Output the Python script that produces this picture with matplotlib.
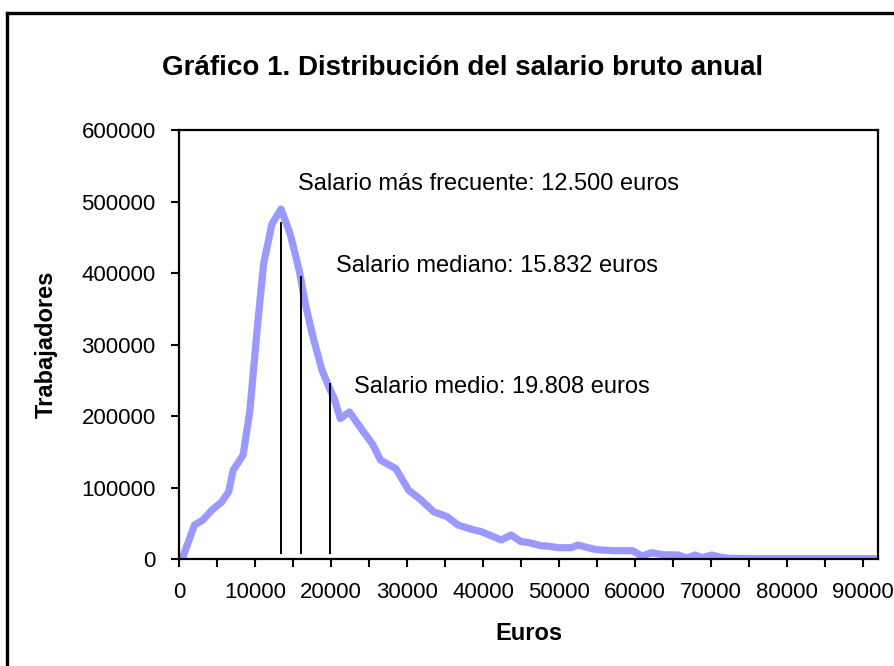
import matplotlib
matplotlib.use("Agg")
import matplotlib.pyplot as plt
from matplotlib.lines import Line2D

plt.rcParams['font.family'] = ['Liberation Sans', 'DejaVu Sans']

# salary (euros) vs number of workers
euros = [400, 2000, 3100, 4300, 5600, 6500, 7100, 8400, 9300, 10200,
         11100, 12200, 13400, 14600, 15800, 16600, 17500, 18800, 19900, 20400,
         21200, 22400, 24100, 25400, 26500, 28500, 30200, 31600, 33500, 35300,
         36700, 38800, 39800, 42400, 43700, 45000, 45900, 47600, 48500, 49900,
         51600, 52500, 54700, 55600, 57300, 59700, 60900, 62200, 63700, 65700,
         66800, 67900, 68800, 70100, 71400, 72300, 76000, 80000, 85000, 91500]
workers = [1000, 47800, 54800, 68800, 80300, 94300, 124500, 145500, 208000, 315000,
           412800, 468600, 489500, 454700, 403500, 357000, 315200, 264000, 236000, 224600,
           196700, 205900, 180300, 161800, 138500, 126900, 96600, 85100, 66400, 59400,
           47800, 41000, 38500, 27000, 34000, 24600, 23700, 19000, 18500, 16200,
           16200, 19900, 13900, 13000, 12000, 12000, 4600, 9200, 6400, 6000,
           1800, 6000, 2300, 6000, 2800, 1400, 1000, 1000, 1000, 1000]

# reference lines: x position, top
ref_x = [13450, 16050, 19800]
ref_top = [472000, 396000, 246000]
ref_labels = ["Salario más frecuente: 12.500 euros",
              "Salario mediano: 15.832 euros",
              "Salario medio: 19.808 euros"]
label_pos = [(15680, 524800), (20700, 410500), (22950, 240300)]

fig = plt.figure(figsize=(8.95, 6.66), dpi=100)
ax = fig.add_axes([0.2003, 0.1602, 0.7807, 0.6446])

ax.plot(euros, workers, color='#9999FF', lw=5.2,
        solid_capstyle='round', solid_joinstyle='round', zorder=2)

for xv, top in zip(ref_x, ref_top):
    ax.vlines(xv, 7500, top, color='black', lw=1.4, zorder=3)

for txt, (tx, ty) in zip(ref_labels, label_pos):
    ax.text(tx, ty, txt, ha='left', va='center', fontsize=17, color='black')

ax.set_xlim(0, 92000)
ax.set_ylim(0, 600000)
ax.set_yticks(range(0, 600001, 100000))
ax.set_yticklabels([str(v) for v in range(0, 600001, 100000)])
ax.set_xticks(range(0, 90001, 5000))
ax.set_xticklabels([str(v) if v % 10000 == 0 else "" for v in range(0, 90001, 5000)])
ax.tick_params(axis='both', direction='out', length=6, width=1.5,
               labelsize=16, colors='black')
ax.tick_params(axis='x', pad=10)
ax.tick_params(axis='y', pad=11)
for s in ax.spines.values():
    s.set_linewidth(1.6)
    s.set_color('black')

ax.set_xlabel("Euros", fontsize=17, fontweight='bold', labelpad=14)
ax.set_ylabel("Trabajadores", fontsize=17, fontweight='bold', labelpad=17)

fig.text(0.517, 0.898, "Gráfico 1. Distribución del salario bruto anual",
         ha='center', va='center', fontsize=20, fontweight='bold')

# chart border (only top and left edges are in frame)
fig.add_artist(Line2D([7 / 895, 1.0], [1 - 13 / 666, 1 - 13 / 666],
                      transform=fig.transFigure, color='black', lw=2.4))
fig.add_artist(Line2D([7 / 895, 7 / 895], [0.0, 1 - 13 / 666],
                      transform=fig.transFigure, color='black', lw=2.4))

fig.savefig("out.png", dpi=100, facecolor='white')
